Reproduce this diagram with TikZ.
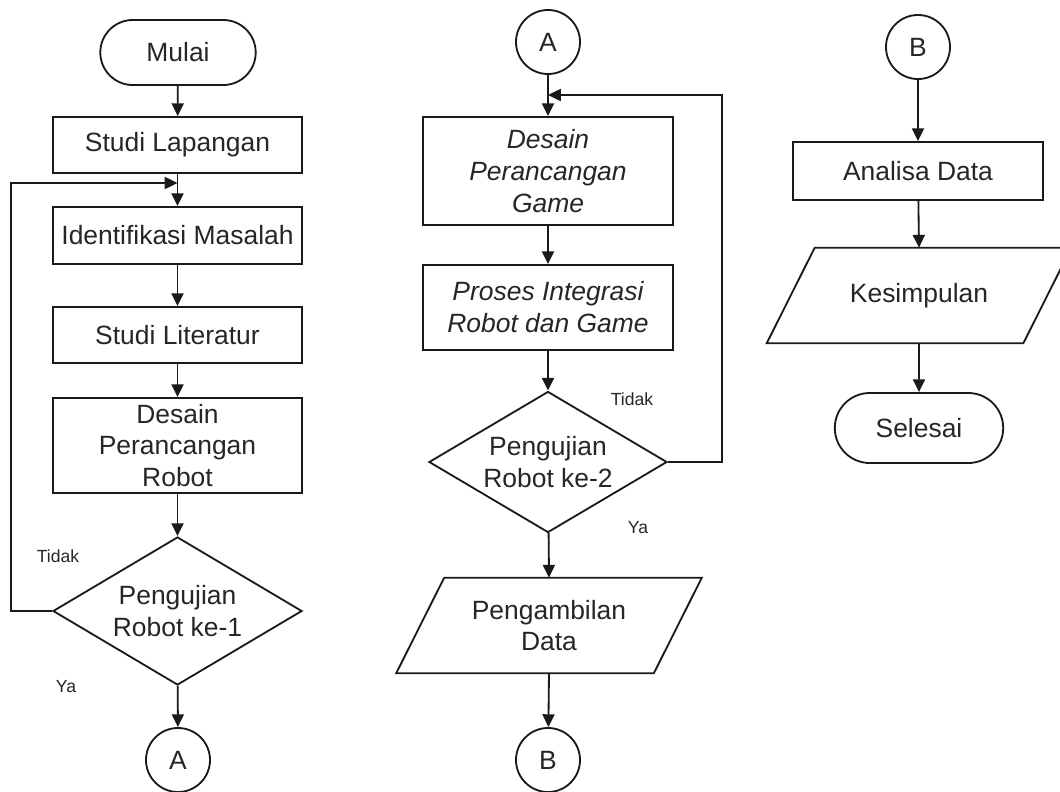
\documentclass[tikz,border=0pt]{standalone}
\usepackage{fontspec}
\setmainfont{Liberation Sans}
\usetikzlibrary{shapes.geometric,shapes.misc,arrows.meta,calc}

\definecolor{ink}{HTML}{1A1A1A}
\definecolor{txt}{HTML}{262626}

\tikzset{
  base/.style={draw=ink, line width=1.3pt, text=txt, align=center,
    font=\fontsize{18.8}{22.7}\selectfont, inner sep=2pt},
  procbox/.style={base, rectangle, minimum width=6.225cm},
  termbox/.style={base, rounded rectangle},
  decbox/.style={base, diamond, aspect=1.68, inner sep=0pt},
  conn/.style={base, circle, minimum size=1.6cm, inner sep=0pt},
  iobox/.style={rectangle, text=txt, align=center,
    font=\fontsize{18.8}{22.7}\selectfont, inner sep=0pt},
  iodraw/.style={draw=ink, line width=1.3pt},
  lbl/.style={text=txt, font=\fontsize{12.5}{14}\selectfont, inner sep=0pt},
  arr/.style={draw=ink, line width=1.3pt, -{Triangle[length=0.32cm,width=0.3cm]}},
}

\begin{document}
\begin{tikzpicture}[x=0.025cm, y=-0.025cm]
\useasboundingbox[fill=white] (0,0) rectangle (1060,791);

% ---------- first column ----------
\node[termbox, minimum width=4.025cm, minimum height=1.625cm] (mulai) at (178,52.5) {Mulai};
\node[procbox, minimum height=1.4cm] (lap) at (177.5,145) {Studi Lapangan};
\node[procbox, minimum height=1.425cm] (idn) at (177.5,235.5) {Identifikasi Masalah};
\node[procbox, minimum height=1.4cm] (lit) at (177.5,335) {Studi Literatur};
\node[procbox, minimum height=2.375cm] (dsr) at (177.5,445.5) {Desain\\Perancangan\\Robot};
\node[decbox, minimum width=6.225cm, minimum height=3.7cm] (d1) at (177.5,611) {Pengujian\\Robot ke-1};
\node[conn] (ca1) at (178,760) {A};
\coordinate (j1) at (177.5,183);

\draw[arr] (mulai) -- (lap);
\draw[arr] (lap) -- (idn);
\draw[arr] (idn) -- (lit);
\draw[arr] (lit) -- (dsr);
\draw[arr] (dsr) -- (d1);
\draw[arr] (d1) -- (ca1);
\draw[arr] (d1.west) -- ++(-41,0) |- (j1);
\node[lbl] (t1) at (58,556) {Tidak};
\node[lbl] (y1) at (66,687) {Ya};

% ---------- second column ----------
\node[conn] (ca2) at (548,42) {A};
\node[procbox, minimum width=6.25cm, minimum height=2.7cm, font=\fontsize{18.8}{22.7}\selectfont\itshape] (dsg) at (548,171) {Desain\\Perancangan\\Game};
\node[procbox, minimum width=6.25cm, minimum height=2.125cm, font=\fontsize{18.8}{22.7}\selectfont\itshape] (pig) at (548,307.5) {Proses Integrasi\\Robot dan Game};
\node[decbox, minimum width=5.95cm, minimum height=3.525cm] (d2) at (548,462) {Pengujian\\Robot ke-2};
\node[iobox, minimum width=6.425cm, minimum height=2.375cm] (pd) at (549,625.5) {Pengambilan\\Data};
\draw[iodraw] ($(pd.north west)+(24,0)$) -- ($(pd.north east)+(24,0)$)
  -- ($(pd.south east)+(-24,0)$) -- ($(pd.south west)+(-24,0)$) -- cycle;
\node[conn] (cb1) at (548,760) {B};
\coordinate (j2) at (548,95);

\draw[arr] (ca2) -- (dsg);
\draw[arr] (dsg) -- (pig);
\draw[arr] (pig) -- (d2);
\draw[arr] (d2) -- (pd.north);
\draw[arr] (pd.south) -- (cb1);
\draw[arr] (d2.east) -- (722,462) |- (j2);
\node[lbl] (t2) at (632,399) {Tidak};
\node[lbl] (y2) at (638,528) {Ya};

% ---------- third column ----------
\node[conn] (cb2) at (918,47) {B};
\node[procbox, minimum width=6.25cm, minimum height=1.45cm] (ana) at (918,171) {Analisa Data};
\node[iobox, minimum width=6.4cm, minimum height=2.375cm] (kes) at (919,295.5) {Kesimpulan};
\draw[iodraw] ($(kes.north west)+(24,0)$) -- ($(kes.north east)+(24,0)$)
  -- ($(kes.south east)+(-24,0)$) -- ($(kes.south west)+(-24,0)$) -- cycle;
\node[termbox, minimum width=4.35cm, minimum height=1.75cm] (sel) at (919,428) {Selesai};

\draw[arr] (cb2) -- (ana);
\draw[arr] (ana) -- (kes.north);
\draw[arr] (kes.south) -- (sel);
\end{tikzpicture}
\end{document}
